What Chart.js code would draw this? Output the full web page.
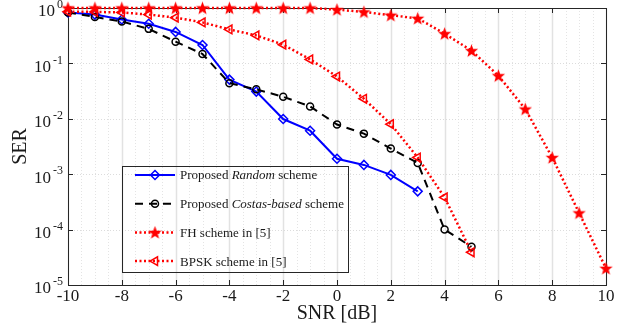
<!DOCTYPE html>
<html>
<head>
<meta charset="utf-8">
<script src="https://cdn.jsdelivr.net/npm/chart.js@4.4.1/dist/chart.umd.min.js"></script>
<style>
  html, body { margin: 0; padding: 0; background: #fff; }
  #wrap { width: 632px; height: 328px; }
</style>
</head>
<body>
<div id="wrap"><canvas id="c"></canvas></div>
<script>
// SNR values (dB)
const snr = [-10, -9, -8, -7, -6, -5, -4, -3, -2, -1, 0, 1, 2, 3, 4, 5, 6, 7, 8, 9, 10];

// SER per scheme, starting at -10 dB
const serRandom = [0.83, 0.76, 0.62, 0.52, 0.37, 0.215, 0.051, 0.031, 0.0099, 0.0061, 0.0019, 0.00147, 0.00097, 0.00049];
const serCostas = [0.83, 0.69, 0.57, 0.42, 0.247, 0.148, 0.044, 0.034, 0.025, 0.0167, 0.0079, 0.0054, 0.0029, 0.0016, 0.0001, 0.000049];
const serFH = [1, 1, 1, 1, 1, 1, 1, 1, 1, 1, 0.935, 0.85, 0.74, 0.65, 0.344, 0.17, 0.06, 0.015, 0.002, 0.0002, 0.00002];
const serBPSK = [0.86, 0.85, 0.83, 0.76, 0.67, 0.55, 0.41, 0.32, 0.218, 0.118, 0.058, 0.023, 0.008, 0.002, 0.00038, 0.000039];

const xTicks = [-10, -8, -6, -4, -2, 0, 2, 4, 6, 8, 10];
const yTicks = [1e-5, 1e-4, 1e-3, 1e-2, 1e-1, 1];

// legend text, [text, italic]
const legendText = [
  [["Proposed ", false], ["Random", true], [" scheme", false]],
  [["Proposed ", false], ["Costas-based", true], [" scheme", false]],
  [["FH scheme in [5]", false]],
  [["BPSK scheme in [5]", false]]
];

const SERIF = "'Liberation Serif', 'Times New Roman', serif";

function pts(vals) {
  return vals.map((v, i) => ({ x: snr[i], y: v }));
}

// filled five-point star marker
function makeStar(color) {
  const c = document.createElement("canvas");
  c.width = 15; c.height = 15;
  const g = c.getContext("2d");
  g.fillStyle = color;
  g.beginPath();
  for (let i = 0; i < 10; i++) {
    const r = i % 2 === 0 ? 7 : 2.9;
    const a = -Math.PI / 2 + i * Math.PI / 5;
    g.lineTo(7.5 + r * Math.cos(a), 8 + r * Math.sin(a));
  }
  g.closePath();
  g.fill();
  return c;
}
const star = makeStar("#ff0000");

const axesFrame = {
  id: "axesFrame",
  beforeDatasetsDraw(chart) {
    const { ctx, chartArea: a, scales: { x, y } } = chart;
    ctx.save();
    ctx.lineWidth = 1;
    // vertical grid: major solid, minor dotted every 0.5
    for (let v = -10; v <= 10; v += 0.5) {
      const px = Math.round(x.getPixelForValue(v)) + 0.5;
      if (xTicks.includes(v)) {
        ctx.setLineDash([]);
        ctx.strokeStyle = "#e2e2e2";
        ctx.lineWidth = 1.5;
      } else {
        ctx.setLineDash([1, 2]);
        ctx.strokeStyle = "#e4e4e4";
        ctx.lineWidth = 1;
      }
      ctx.beginPath();
      ctx.moveTo(px, a.top);
      ctx.lineTo(px, a.bottom);
      ctx.stroke();
    }
    // horizontal decade grid, dotted
    ctx.lineWidth = 1;
    ctx.setLineDash([1, 2]);
    ctx.strokeStyle = "#dcdcdc";
    yTicks.forEach(v => {
      const py = Math.round(y.getPixelForValue(v)) + 0.5;
      ctx.beginPath();
      ctx.moveTo(a.left, py);
      ctx.lineTo(a.right, py);
      ctx.stroke();
    });
    ctx.setLineDash([]);

    // box
    ctx.strokeStyle = "#262626";
    ctx.lineWidth = 1;
    ctx.strokeRect(Math.round(a.left) + 0.5, Math.round(a.top) + 0.5,
      Math.round(a.right - a.left), Math.round(a.bottom - a.top));

    // inward ticks
    ctx.beginPath();
    xTicks.forEach(v => {
      const px = Math.round(x.getPixelForValue(v)) + 0.5;
      ctx.moveTo(px, a.bottom); ctx.lineTo(px, a.bottom - 5);
      ctx.moveTo(px, a.top); ctx.lineTo(px, a.top + 5);
    });
    yTicks.forEach(v => {
      const py = Math.round(y.getPixelForValue(v)) + 0.5;
      ctx.moveTo(a.left, py); ctx.lineTo(a.left + 5, py);
      ctx.moveTo(a.right, py); ctx.lineTo(a.right - 5, py);
    });
    ctx.stroke();

    // y tick labels as 10 with raised exponent
    ctx.fillStyle = "#1a1a1a";
    ctx.textBaseline = "middle";
    yTicks.forEach(v => {
      const py = y.getPixelForValue(v);
      const e = String(Math.round(Math.log10(v)));
      ctx.font = "12px " + SERIF;
      const ew = ctx.measureText(e).width;
      ctx.textAlign = "left";
      const right = a.left - 5;
      ctx.fillText(e, right - ew, py - 3);
      ctx.font = "17px " + SERIF;
      ctx.textAlign = "right";
      ctx.fillText("10", right - ew - 2, py + 4);
    });
    ctx.restore();
  },
  afterDatasetsDraw(chart) {
    const { ctx } = chart;
    ctx.save();
    const bx = 122, by = 166, bw = 226, bh = 106;
    ctx.strokeStyle = "#262626";
    ctx.lineWidth = 1;
    ctx.strokeRect(bx + 0.5, by + 0.5, bw, bh);
    chart.data.datasets.forEach((ds, i) => {
      const yy = 175 + i * 28.7;
      ctx.strokeStyle = ds.borderColor;
      ctx.lineWidth = ds.borderWidth;
      ctx.setLineDash(ds.borderDash || []);
      ctx.beginPath();
      ctx.moveTo(135, yy);
      ctx.lineTo(175, yy);
      ctx.stroke();
      ctx.setLineDash([]);
      ctx.fillStyle = ds.pointBackgroundColor;
      ctx.strokeStyle = ds.pointBorderColor;
      ctx.lineWidth = ds.pointBorderWidth;
      Chart.helpers.drawPoint(ctx, {
        pointStyle: ds.pointStyle,
        rotation: ds.pointRotation || 0,
        radius: ds.pointRadius,
        borderWidth: ds.pointBorderWidth
      }, 155, yy);
      // text
      let tx = 180;
      ctx.fillStyle = "#1a1a1a";
      ctx.textBaseline = "middle";
      ctx.textAlign = "left";
      legendText[i].forEach(([t, it]) => {
        ctx.font = (it ? "italic " : "") + "13px " + SERIF;
        ctx.fillText(t, tx, yy + 1);
        tx += ctx.measureText(t).width;
      });
    });
    ctx.restore();
  }
};

new Chart(document.getElementById("c"), {
  type: "line",
  data: {
    datasets: [
      {
        label: "Proposed Random scheme",
        data: pts(serRandom),
        borderColor: "#0000ff", borderWidth: 2,
        pointStyle: "rectRot", pointRadius: 4.5, pointBorderWidth: 1.5,
        pointBackgroundColor: "rgba(0,0,0,0)", pointBorderColor: "#0000ff",
        order: 4, clip: false
      },
      {
        label: "Proposed Costas-based scheme",
        data: pts(serCostas),
        borderColor: "#000000", borderWidth: 2, borderDash: [8, 6],
        pointStyle: "circle", pointRadius: 3.5, pointBorderWidth: 1.5,
        pointBackgroundColor: "rgba(0,0,0,0)", pointBorderColor: "#000000",
        order: 3, clip: false
      },
      {
        label: "FH scheme in [5]",
        data: pts(serFH),
        borderColor: "#ff0000", borderWidth: 2.5, borderDash: [2, 2.5],
        pointStyle: star, pointRadius: 7, pointBorderWidth: 1,
        pointBackgroundColor: "#ff0000", pointBorderColor: "#ff0000",
        order: 2, clip: false
      },
      {
        label: "BPSK scheme in [5]",
        data: pts(serBPSK),
        borderColor: "#ff0000", borderWidth: 2.5, borderDash: [2, 2.5],
        pointStyle: "triangle", pointRotation: -90, pointRadius: 5, pointBorderWidth: 1.5,
        pointBackgroundColor: "rgba(0,0,0,0)", pointBorderColor: "#ff0000",
        order: 1, clip: false
      }
    ]
  },
  options: {
    animation: false,
    responsive: true,
    maintainAspectRatio: false,
    devicePixelRatio: 1,
    layout: { padding: { top: 8, right: 26, left: 0, bottom: 0 } },
    plugins: { legend: { display: false }, tooltip: { enabled: false } },
    scales: {
      x: {
        type: "linear", min: -10, max: 10,
        grid: { display: false, drawTicks: false },
        border: { display: false },
        ticks: {
          stepSize: 2, padding: 1, color: "#1a1a1a",
          font: { family: SERIF, size: 17 }
        },
        title: {
          display: true, text: "SNR [dB]", color: "#1a1a1a",
          font: { family: SERIF, size: 20 }, padding: { top: 0, bottom: 2 }
        },
        afterFit(s) { s.height = 43; }
      },
      y: {
        type: "logarithmic", min: 1e-5, max: 1,
        grid: { display: false, drawTicks: false },
        border: { display: false },
        ticks: { display: false },
        title: {
          display: true, text: "SER", color: "#1a1a1a",
          font: { family: SERIF, size: 20 }, padding: { top: 9, bottom: 0 }
        },
        afterFit(s) { s.width = 68; }
      }
    }
  },
  plugins: [axesFrame]
});
</script>
</body>
</html>
